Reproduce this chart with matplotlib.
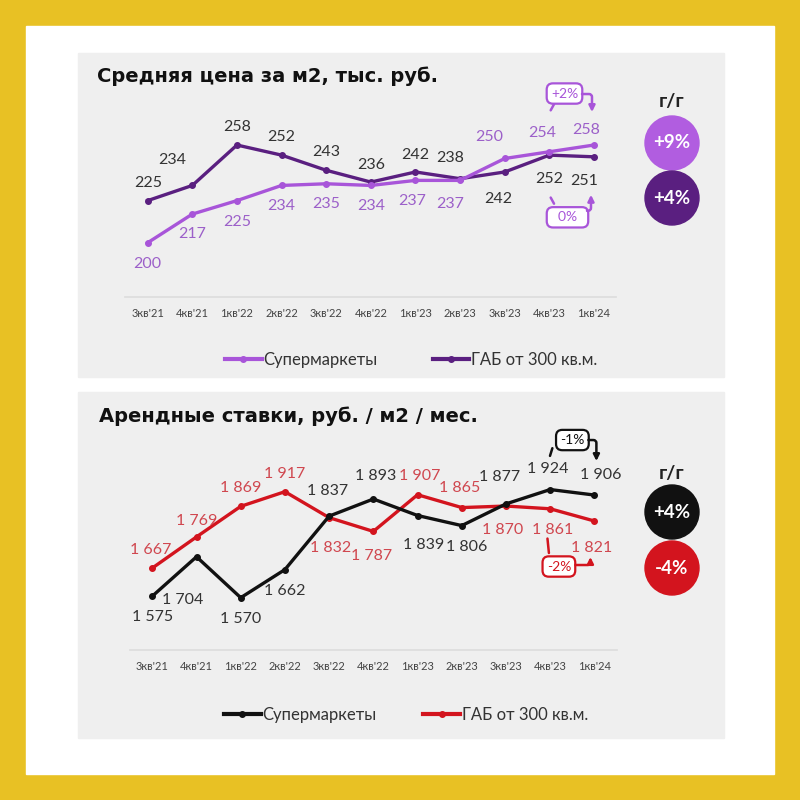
import matplotlib
matplotlib.use("Agg")
import matplotlib.pyplot as plt
import matplotlib.transforms as mtransforms
from matplotlib.patches import Rectangle, Circle
from matplotlib.lines import Line2D

plt.rcParams['font.family'] = ['Lato', 'DejaVu Sans']

# data
quarters = ["3кв'21", "4кв'21", "1кв'22", "2кв'22", "3кв'22", "4кв'22",
            "1кв'23", "2кв'23", "3кв'23", "4кв'23", "1кв'24"]
price_super = [200, 217, 225, 234, 235, 234, 237, 237, 250, 254, 258]
price_gab = [225, 234, 258, 252, 243, 236, 242, 238, 242, 252, 251]
rent_super = [1575, 1704, 1570, 1662, 1837, 1893, 1839, 1806, 1877, 1924, 1906]
rent_gab = [1667, 1769, 1869, 1917, 1832, 1787, 1907, 1865, 1870, 1861, 1821]
series_names = ["Супермаркеты", "ГАБ от 300 кв.м."]
price_yoy = ["+9%", "+4%"]
rent_yoy = ["+4%", "-4%"]
price_qoq = ["+2%", "0%"]
rent_qoq = ["-1%", "-2%"]
titles = ["Средняя цена за м2, тыс. руб.", "Арендные ставки, руб. / м2 / мес."]

# label offsets in pixels (x, y up)
price_super_off = [(0, -21), (0, -20), (0, -21), (0, -21), (0, -20), (0, -21),
                   (-3, -21), (-10, -24), (-16, 21), (-7, 19), (-8, 15)]
price_gab_off = [(0, 18), (-20, 25), (0, 18), (0, 18), (0, 18), (0, 17),
                 (0, 17), (-10, 21), (-6, -27), (0, -24), (-10, -24)]
rent_super_off = [(0, -21), (-14, -43), (0, -21), (0, -21), (-2, 25), (2, 23),
                  (6, -29), (5, -21), (-6, 27), (-2, 21), (6, 20)]
rent_gab_off = [(-2, 18), (0, 16), (0, 18), (0, 18), (1, -30), (-2, -25),
                (2, 19), (-2, 20), (-3, -24), (2, -21), (-3, -27)]

LIGHT = "#a855d9"
DARK = "#5a1f80"
RED = "#d3141e"
BLACK = "#111111"
GOLD = "#e8c124"
PANEL = "#efefef"

fig = plt.figure(figsize=(8, 8), dpi=100)
fig.patch.set_facecolor(GOLD)

bg = fig.add_axes([0, 0, 1, 1])
bg.set_xlim(0, 800)
bg.set_ylim(800, 0)
bg.axis("off")
bg.add_patch(Rectangle((26, 26), 748, 748, color="white"))
bg.add_patch(Rectangle((78, 53), 646, 324, color=PANEL))
bg.add_patch(Rectangle((78, 392), 646, 346, color=PANEL))


def px_axes(left, top, right, bottom):
    return fig.add_axes([left / 800, 1 - bottom / 800, (right - left) / 800, (bottom - top) / 800])


def shift(ax, dx, dy):
    return ax.transData + mtransforms.ScaledTranslation(dx / 100, dy / 100, fig.dpi_scale_trans)


def draw_chart(ax, s1, s2, c1, c2, lc1, lc2, off1, off2, fmt):
    x = range(len(quarters))
    ax.plot(x, s2, color=c2, lw=2.4, marker="o", ms=4, zorder=3)
    ax.plot(x, s1, color=c1, lw=2.4, marker="o", ms=4, zorder=4)
    for i in x:
        ax.annotate(fmt(s1[i]), (i, s1[i]), xytext=off1[i], textcoords="offset pixels",
                    ha="center", va="center", fontsize=11.5, color=lc1)
        ax.annotate(fmt(s2[i]), (i, s2[i]), xytext=off2[i], textcoords="offset pixels",
                    ha="center", va="center", fontsize=11.5, color=lc2)
    ax.set_xlim(-0.5, 10.5)
    ax.set_xticks(list(x))
    ax.set_xticklabels(quarters, fontsize=8, color="#444444")
    ax.tick_params(axis="x", length=0, pad=8)
    ax.set_yticks([])
    for side in ["top", "right", "left"]:
        ax.spines[side].set_visible(False)
    ax.spines["bottom"].set_color("#dcdcdc")
    ax.spines["bottom"].set_linewidth(1.2)
    ax.patch.set_visible(False)


def bridge(ax, text, color, box, left, right, wide=False):
    i, v, dx, dy = box
    shown = f"  {text}  " if wide else text
    ax.text(i, v, shown, transform=shift(ax, dx, dy), ha="center", va="center",
            fontsize=10, color=color,
            bbox=dict(boxstyle="round,pad=0.3,rounding_size=0.45", fc="white", ec=color, lw=1.6))
    i, v, (x0, y0), (x1, y1) = left
    ax.annotate("", xy=(i, v), xycoords=shift(ax, x1, y1), xytext=(i, v), textcoords=shift(ax, x0, y0),
                arrowprops=dict(arrowstyle="-", color=color, lw=1.8), annotation_clip=False)
    i, v, (x0, y0), (x1, y1) = right
    ax.annotate("", xy=(i, v), xycoords=shift(ax, x1, y1), xytext=(i, v), textcoords=shift(ax, x0, y0),
                arrowprops=dict(arrowstyle="-|>", color=color, lw=1.8, mutation_scale=9,
                                connectionstyle="angle,angleA=0,angleB=90,rad=3",
                                shrinkA=0, shrinkB=0),
                annotation_clip=False)


def legend(ax, c1, c2, cx, cy, gap):
    handles = [Line2D([], [], color=c1, lw=3, marker="o", ms=4),
               Line2D([], [], color=c2, lw=3, marker="o", ms=4)]
    ax.legend(handles, series_names, loc="center", bbox_to_anchor=(cx / 800, 1 - cy / 800),
              bbox_transform=fig.transFigure, ncol=2, frameon=False, fontsize=12,
              handlelength=2.2, handletextpad=0.1, columnspacing=gap, labelcolor="#333333")


def yoy(cy_label, cy1, cy2, t1, t2, c1, c2):
    bg.text(672, cy_label, "г/г", ha="center", va="center", fontsize=14, fontweight="bold", color="#222222")
    bg.add_patch(Circle((672, cy1), 27, color=c1))
    bg.add_patch(Circle((672, cy2), 27, color=c2))
    bg.text(672, cy1, t1, ha="center", va="center", fontsize=13.5, fontweight="bold", color="white")
    bg.text(672, cy2, t2, ha="center", va="center", fontsize=13.5, fontweight="bold", color="white")


# top chart: price
ax1 = px_axes(125.4, 120, 616.3, 297)
ax1.set_ylim(167.76, 272.86)
draw_chart(ax1, price_super, price_gab, LIGHT, DARK, "#9c60c9", "#333333",
           price_super_off, price_gab_off, lambda v: f"{v}")
bg.text(97, 76, titles[0], ha="left", va="center", fontsize=14, fontweight="bold",
        color="#111111", family="DejaVu Sans")
bridge(ax1, price_qoq[0], LIGHT, (10, price_super[10], -29.5, 51.5),
       (9, price_super[9], (0, 39), (6, 50)),
       (10, price_super[10], (-12, 51), (-2, 33)))
bridge(ax1, price_qoq[1], LIGHT, (10, price_gab[10], -26.5, -60.5),
       (9, price_gab[9], (0, -40), (6, -51)),
       (10, price_gab[10], (-7, -54), (-3, -38)), wide=True)
legend(ax1, LIGHT, DARK, 411, 360, 3.3)
yoy(101, 143, 198, price_yoy[0], price_yoy[1], "#b15de0", DARK)

# bottom chart: rent
ax2 = px_axes(130.2, 460, 616.5, 650)
ax2.set_ylim(1398.8, 2020.7)
draw_chart(ax2, rent_super, rent_gab, BLACK, RED, "#333333", "#d0474f",
           rent_super_off, rent_gab_off, lambda v: f"{v:,}".replace(",", " "))
bg.text(99, 416, titles[1], ha="left", va="center", fontsize=14, fontweight="bold",
        color="#111111", family="DejaVu Sans")
bridge(ax2, rent_qoq[0], BLACK, (10, rent_super[10], -22, 55),
       (9, rent_super[9], (-1, 31), (3, 44)),
       (10, rent_super[10], (-6, 55), (2, 34)))
bridge(ax2, rent_qoq[1], RED, (10, rent_gab[10], -35.5, -45.5),
       (9, rent_gab[9], (-3, -27), (-1, -47)),
       (10, rent_gab[10], (-19, -44), (-4, -36)))
legend(ax2, BLACK, RED, 406, 715, 2.8)
yoy(473, 512, 568, rent_yoy[0], rent_yoy[1], BLACK, RED)

fig.savefig("out.png", dpi=100, facecolor=GOLD)
